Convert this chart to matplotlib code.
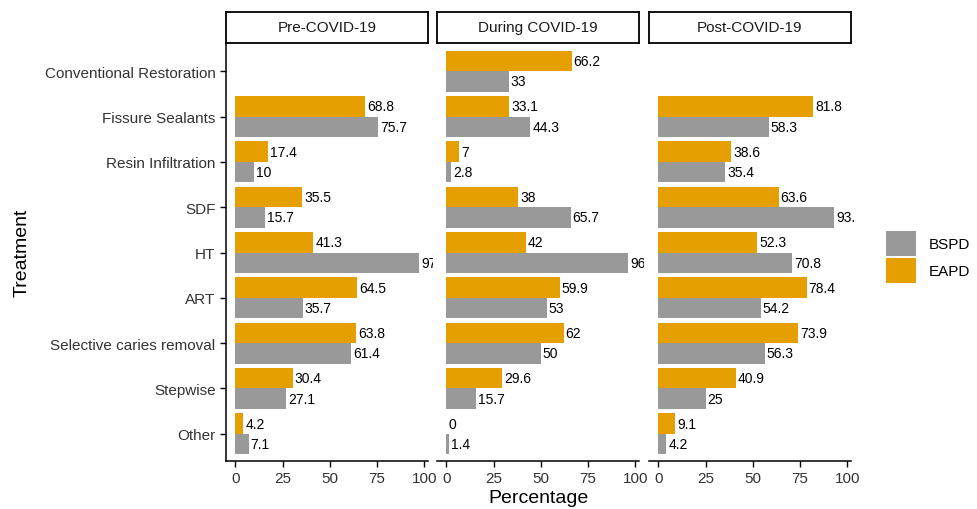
import numpy as np
import matplotlib
matplotlib.use("Agg")
from matplotlib import pyplot as plt
from matplotlib.patches import Patch
from matplotlib.transforms import offset_copy, Bbox

plt.rcParams['font.family'] = ['Liberation Sans', 'DejaVu Sans']

# Data
treatments = ['Conventional Restoration', 'Fissure Sealants', 'Resin Infiltration', 'SDF', 'HT',
              'ART', 'Selective caries removal', 'Stepwise', 'Other']
periods = ['Pre-COVID-19', 'During COVID-19', 'Post-COVID-19']

eapd_pre = [np.nan, 68.8, 17.4, 35.5, 41.3, 64.5, 63.8, 30.4, 4.2]
bspd_pre = [np.nan, 75.7, 10, 15.7, 97, 35.7, 61.4, 27.1, 7.1]
eapd_during = [66.2, 33.1, 7, 38, 42, 59.9, 62, 29.6, 0]
bspd_during = [33, 44.3, 2.8, 65.7, 96, 53, 50, 15.7, 1.4]
eapd_post = [np.nan, 81.8, 38.6, 63.6, 52.3, 78.4, 73.9, 40.9, 9.1]
bspd_post = [np.nan, 58.3, 35.4, 93.1, 70.8, 54.2, 56.3, 25, 4.2]

eapd = [eapd_pre, eapd_during, eapd_post]
bspd = [bspd_pre, bspd_during, bspd_post]

col_bspd = '#999999'
col_eapd = '#E69F00'

W, H = 978, 510
fig = plt.figure(figsize=(W / 100, H / 100), dpi=100)

panel_left = [226, 437, 649]
panel_w = 202
top, bottom = 45, 462
strip_top = 14

xmax = np.nanmax(np.array(bspd + eapd, dtype=float))
xlim = (-0.05 * xmax, 1.05 * xmax)
n = len(treatments)
y = np.arange(n)[::-1] + 1  # first category on top
bh = 0.45


def add_labels(ax, vals, ypos, clipbox):
    trans = offset_copy(ax.transData, fig=fig, x=1.5, y=0, units='points')
    for yy, v in zip(ypos, vals):
        if np.isnan(v):
            continue
        t = ax.text(v, yy, f'{v:g}', transform=trans, ha='left', va='center',
                    fontsize=10, color='black')
        t.set_clip_box(clipbox)
        t.set_clip_on(True)


for i, period in enumerate(periods):
    ax = fig.add_axes([panel_left[i] / W, 1 - bottom / H, panel_w / W, (bottom - top) / H])
    e = np.array(eapd[i], dtype=float)
    b = np.array(bspd[i], dtype=float)
    ax.barh(y + bh / 2, np.nan_to_num(e), height=bh, color=col_eapd, edgecolor='none')
    ax.barh(y - bh / 2, np.nan_to_num(b), height=bh, color=col_bspd, edgecolor='none')
    # labels get clipped a few pixels past the panel edge
    clipbox = Bbox.from_extents(panel_left[i], H - bottom, panel_left[i] + panel_w + 5, H - top)
    add_labels(ax, e, y + bh / 2, clipbox)
    add_labels(ax, b, y - bh / 2, clipbox)

    ax.set_xlim(xlim)
    ax.set_ylim(0.4, n + 0.6)
    ax.set_xticks([0, 25, 50, 75, 100])
    ax.tick_params(axis='x', labelsize=11, length=4, width=1, colors='black', labelcolor='#333333')
    for s in ['top', 'right']:
        ax.spines[s].set_visible(False)
    ax.spines['bottom'].set_linewidth(1.1)
    if i == 0:
        ax.set_yticks(y)
        ax.set_yticklabels(treatments)
        ax.tick_params(axis='y', labelsize=11, length=4, width=1, labelcolor='#333333')
        ax.spines['left'].set_linewidth(1.1)
    else:
        ax.set_yticks([])
        ax.spines['left'].set_visible(False)

    # facet strip
    sax = fig.add_axes([panel_left[i] / W, 1 - top / H + 0.002, panel_w / W, (top - strip_top) / H])
    sax.set_xticks([])
    sax.set_yticks([])
    for s in sax.spines.values():
        s.set_linewidth(1.3)
    sax.text(0.5, 0.5, period, ha='center', va='center', fontsize=11, color='#1a1a1a')

fig.text((226 + 851) / 2 / W, 1 - 499 / H, 'Percentage', ha='center', va='center', fontsize=14)
fig.text(22 / W, 1 - 253 / H, 'Treatment', ha='center', va='center', rotation=90, fontsize=14)

# legend
handles = [Patch(facecolor=col_bspd, edgecolor='none', label='BSPD'),
           Patch(facecolor=col_eapd, edgecolor='none', label='EAPD')]
fig.legend(handles=handles, loc='center left', bbox_to_anchor=(872 / W, 1 - 258 / H),
           frameon=False, fontsize=11, handlelength=2.0, handleheight=2.1,
           handletextpad=0.8, labelspacing=0.15)

plt.savefig('out.png', dpi=100)
